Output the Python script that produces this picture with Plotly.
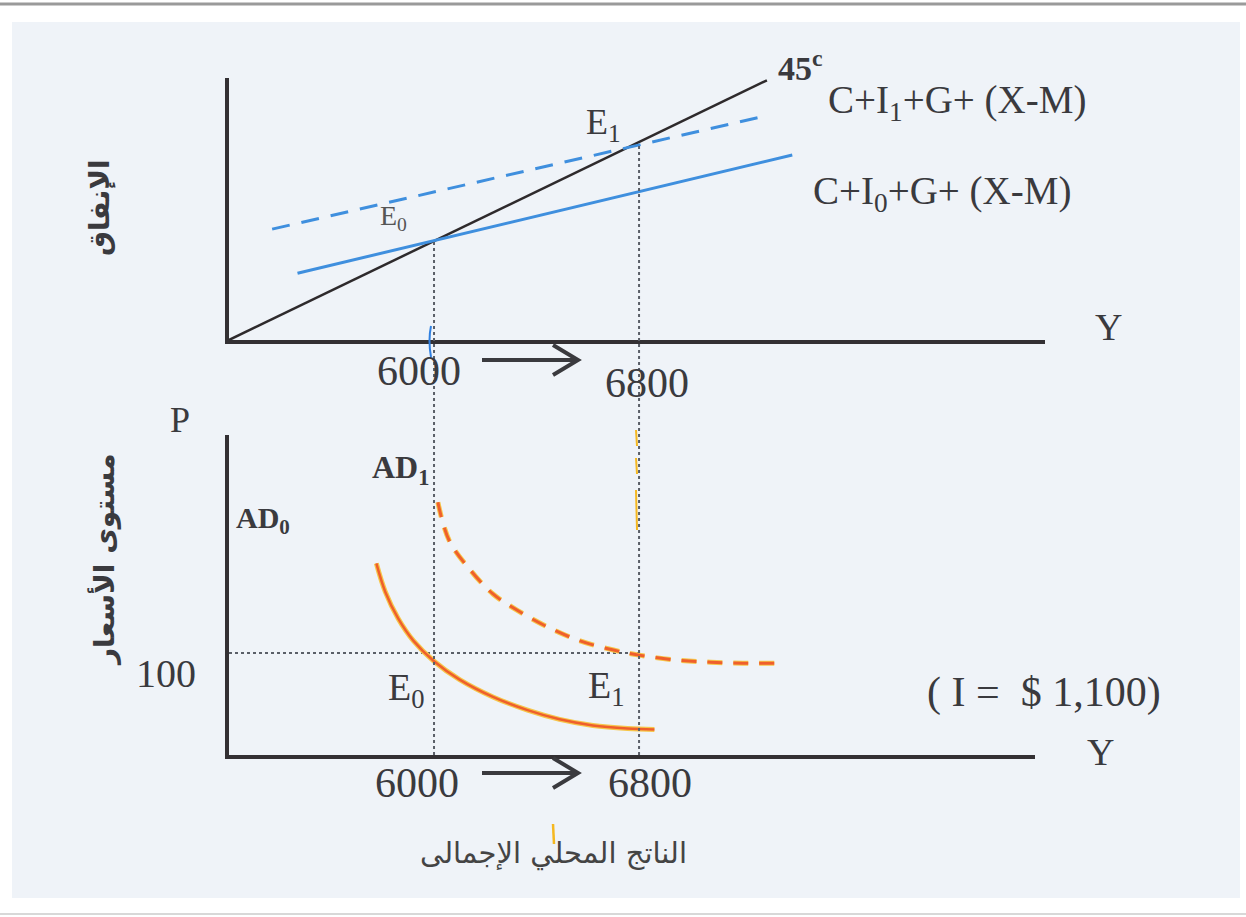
import plotly.graph_objects as go

W, H = 1246, 917

# top panel: aggregate expenditure (Y on x axis, spending on y axis)
y_marks = [6000, 6800]
line45_x = [5200, 7320]
line45_y = [5200, 7320]
ae0_x = [5470, 7420]
ae0_y = [5745, 6710]
ae1_x = [5370, 7295]
ae1_y = [6105, 7020]

# bottom panel: aggregate demand (Y on x axis, price level on y axis)
p_level = 100
ad0_x = [5775, 5810, 5860, 5920, 6000, 6100, 6230, 6365, 6490, 6620, 6755, 6860]
ad0_p = [144, 130, 117, 106, 96, 87, 78.5, 72, 67.5, 64.5, 63, 62.5]
ad1_x = [6015, 6060, 6140, 6230, 6325, 6440, 6570, 6700, 6800, 6950, 7080, 7205, 7330]
ad1_p = [174, 155, 141, 129, 121, 113, 106, 101.5, 99, 96.5, 95.5, 95, 95]


def px(x):
  return x / W


def py(y):
  return 1 - y / H


top_xr = [5200, 8416]
top_yr = [5200, 7339]
bot_xr = [5200, 8345]
bot_yr = [50, 207]
top_xd = [px(229), px(1045)]
top_yd = [py(340), py(78)]
bot_xd = [px(229), px(1035)]
bot_yd = [py(755), py(435)]

BLUE = '#3f8fde'
ORANGE = '#ef5f2c'
HALO = '#f6c64a'
INK = '#3a3a3e'
SERIF = 'Liberation Serif'
ARAB = 'DejaVu Sans'

fig = go.Figure()

fig.add_trace(go.Scatter(x=line45_x, y=line45_y, mode='lines',
  line=dict(color='#2e2a2c', width=2.5), xaxis='x', yaxis='y'))
fig.add_trace(go.Scatter(x=ae0_x, y=ae0_y, mode='lines',
  line=dict(color=BLUE, width=3), xaxis='x', yaxis='y'))
fig.add_trace(go.Scatter(x=ae1_x, y=ae1_y, mode='lines',
  line=dict(color=BLUE, width=3, dash='18px,12px'), xaxis='x', yaxis='y'))

fig.add_trace(go.Scatter(x=[bot_xr[0], y_marks[1]], y=[p_level, p_level], mode='lines',
  line=dict(color='#5a5f68', width=2, dash='dot'), xaxis='x2', yaxis='y2'))
fig.add_trace(go.Scatter(x=ad0_x, y=ad0_p, mode='lines', line_shape='spline',
  line=dict(color=HALO, width=5), xaxis='x2', yaxis='y2'))
fig.add_trace(go.Scatter(x=ad0_x, y=ad0_p, mode='lines', line_shape='spline',
  line=dict(color=ORANGE, width=2.5), xaxis='x2', yaxis='y2'))
fig.add_trace(go.Scatter(x=ad1_x, y=ad1_p, mode='lines', line_shape='spline',
  line=dict(color=HALO, width=5, dash='15px,11px'), xaxis='x2', yaxis='y2'))
fig.add_trace(go.Scatter(x=ad1_x, y=ad1_p, mode='lines', line_shape='spline',
  line=dict(color=ORANGE, width=3, dash='15px,11px'), xaxis='x2', yaxis='y2'))

shapes = []
# page background and scan border
shapes.append(dict(type='rect', xref='paper', yref='paper', layer='below',
  x0=px(12), x1=px(1240), y0=py(898), y1=py(22), fillcolor='#eff3f8', line_width=0))
shapes.append(dict(type='line', xref='paper', yref='paper',
  x0=0, x1=1, y0=py(4), y1=py(4), line=dict(color='#9a9a9a', width=3)))
shapes.append(dict(type='line', xref='paper', yref='paper',
  x0=0, x1=1, y0=py(914), y1=py(914), line=dict(color='#d8d8d8', width=2)))

# dotted guides from the equilibria down to the lower Y axis
for v in y_marks:
  top = top_yd[0] + (v - top_yr[0]) / (top_yr[1] - top_yr[0]) * (top_yd[1] - top_yd[0])
  shapes.append(dict(type='line', xref='x2', yref='paper', x0=v, x1=v,
    y0=bot_yd[0], y1=top, line=dict(color='#5a5f68', width=2, dash='dot')))

# arrows between 6000 and 6800
for yy in [360, 773]:
  path = 'M %f,%f L %f,%f M %f,%f L %f,%f L %f,%f' % (
    px(482), py(yy), px(577), py(yy),
    px(553), py(yy - 15), px(578), py(yy), px(553), py(yy + 15))
  shapes.append(dict(type='path', xref='paper', yref='paper', path=path,
    line=dict(color=INK, width=4)))

# pen marks on the scan
shapes.append(dict(type='path', xref='paper', yref='paper',
  path='M %f,%f Q %f,%f %f,%f' % (px(431), py(326), px(428), py(340), px(431), py(357)),
  line=dict(color='#2f7fe0', width=2)))
for a, b in [(430, 446), (458, 474), (490, 530)]:
  shapes.append(dict(type='line', xref='paper', yref='paper', x0=px(636), x1=px(637),
    y0=py(a), y1=py(b), line=dict(color='#f5b820', width=2)))
shapes.append(dict(type='line', xref='paper', yref='paper', x0=px(553), x1=px(554),
  y0=py(824), y1=py(844), line=dict(color='#f5b820', width=2.5)))

ann = []


def label(text, x, y, size, bold=False, color=INK, font=SERIF, angle=0):
  if bold:
    text = '<b>' + text + '</b>'
  ann.append(dict(text=text, x=px(x), y=py(y), xref='paper', yref='paper',
    showarrow=False, xanchor='center', yanchor='middle', textangle=angle,
    font=dict(family=font, size=size, color=color)))


label('45<sup>c</sup>', 800, 66, 34, bold=True)
label('C+I<sub>1</sub>+G+ (X-M)', 957, 102, 39)
label('C+I<sub>0</sub>+G+ (X-M)', 942, 194, 39)
label('E<sub>1</sub>', 603, 124, 36)
label('E<sub>0</sub>', 393, 217, 28, color='#555')
label('Y', 1108, 327, 38)
label(str(y_marks[0]), 419, 371, 42)
label(str(y_marks[1]), 647, 383, 42)
label('الإنفاق', 100, 208, 28, bold=True, font=ARAB, angle=-90)

label('P', 180, 420, 36)
label('مستوى الأسعار', 104, 560, 28, bold=True, font=ARAB, angle=-90)
label('AD<sub>1</sub>', 400, 470, 32, bold=True)
label('AD<sub>0</sub>', 263, 520, 30, bold=True)
label(str(p_level), 166, 673, 40)
label('E<sub>0</sub>', 406, 690, 38)
label('E<sub>1</sub>', 606, 688, 38)
label('( I =  $ 1,100)', 1044, 692, 42)
label('Y', 1100, 752, 38)
label(str(y_marks[0]), 417, 783, 42)
label(str(y_marks[1]), 650, 783, 42)
label('الناتج المحلي الإجمالى', 553, 853, 29, font=ARAB, color='#444')

axis = dict(showgrid=False, zeroline=False, showticklabels=False, ticks='',
  showline=True, linecolor='#333033', linewidth=3.5, fixedrange=True)

fig.update_layout(
  width=W, height=H,
  margin=dict(l=0, r=0, t=0, b=0),
  paper_bgcolor='white',
  plot_bgcolor='rgba(0,0,0,0)',
  showlegend=False,
  xaxis=dict(axis, range=top_xr, domain=top_xd, anchor='y'),
  yaxis=dict(axis, range=top_yr, domain=top_yd, anchor='x'),
  xaxis2=dict(axis, range=bot_xr, domain=bot_xd, anchor='y2'),
  yaxis2=dict(axis, range=bot_yr, domain=bot_yd, anchor='x2'),
  shapes=shapes,
  annotations=ann,
)

fig.write_html('out.html', config={'displayModeBar': False},
  post_script="document.body.style.margin='0';")
